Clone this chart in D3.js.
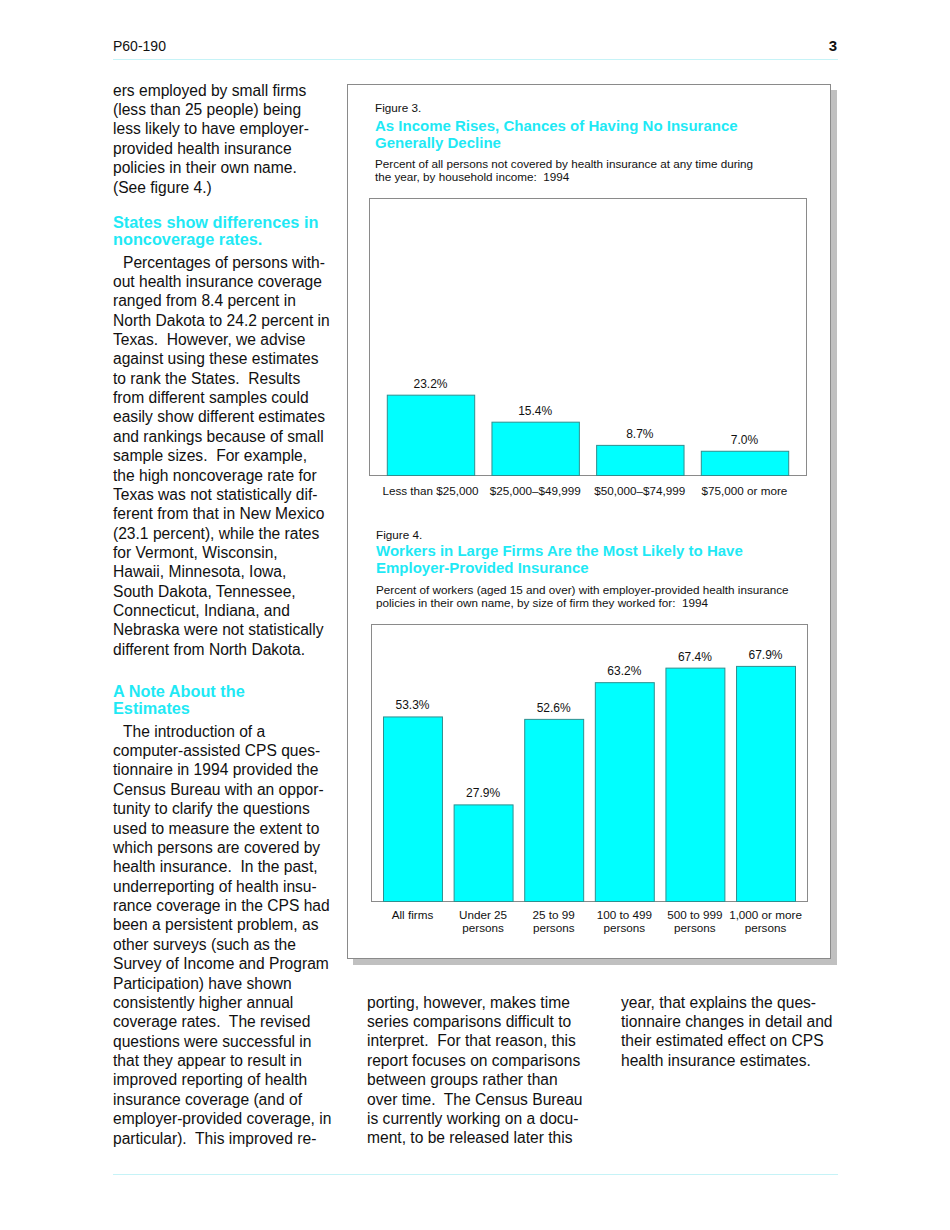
<!DOCTYPE html>
<html><head><meta charset="utf-8">
<script src="https://cdn.jsdelivr.net/npm/d3@7"></script>
<style>
body{margin:0;background:#fff;}
svg text{font-family:"Liberation Sans",Arial,Helvetica,sans-serif;}
</style></head>
<body><svg id="page" width="950" height="1230"></svg>
<script>
// ---- Data ----
const incomeCategories = ["Less than $25,000","$25,000\u2013$49,999","$50,000\u2013$74,999","$75,000 or more"];
const incomeValues = [23.2, 15.4, 8.7, 7.0];
const firmCategories = [["All firms"],["Under 25","persons"],["25 to 99","persons"],["100 to 499","persons"],["500 to 999","persons"],["1,000 or more","persons"]];
const firmValues = [53.3, 27.9, 52.6, 63.2, 67.4, 67.9];
const yMax = 80;

// ---- Text ----
const leftBlockA = ["ers employed by small firms","(less than 25 people) being","less likely to have employer-","provided health insurance","policies in their own name.","(See figure 4.)"];
const heading1 = ["States show differences in","noncoverage rates."];
const leftBlockB = ["Percentages of persons with-","out health insurance coverage","ranged from 8.4 percent in","North Dakota to 24.2 percent in","Texas.  However, we advise","against using these estimates","to rank the States.  Results","from different samples could","easily show different estimates","and rankings because of small","sample sizes.  For example,","the high noncoverage rate for","Texas was not statistically dif-","ferent from that in New Mexico","(23.1 percent), while the rates","for Vermont, Wisconsin,","Hawaii, Minnesota, Iowa,","South Dakota, Tennessee,","Connecticut, Indiana, and","Nebraska were not statistically","different from North Dakota."];
const heading2 = ["A Note About the","Estimates"];
const leftBlockC = ["The introduction of a","computer-assisted CPS ques-","tionnaire in 1994 provided the","Census Bureau with an oppor-","tunity to clarify the questions","used to measure the extent to","which persons are covered by","health insurance.  In the past,","underreporting of health insu-","rance coverage in the CPS had","been a persistent problem, as","other surveys (such as the","Survey of Income and Program","Participation) have shown","consistently higher annual","coverage rates.  The revised","questions were successful in","that they appear to result in","improved reporting of health","insurance coverage (and of","employer-provided coverage, in","particular).  This improved re-"];
const midBlock = ["porting, however, makes time","series comparisons difficult to","interpret.  For that reason, this","report focuses on comparisons","between groups rather than","over time.  The Census Bureau","is currently working on a docu-","ment, to be released later this"];
const rightBlock = ["year, that explains the ques-","tionnaire changes in detail and","their estimated effect on CPS","health insurance estimates."];

const CYAN_TEXT = "#1fe9f5";
const svg = d3.select("#page");

function lines(arr, x, y0, dy, size, opts={}){
  const g = svg.append("g");
  arr.forEach((t,i)=>{
    g.append("text").attr("x", (i===0 && opts.indent)? x+opts.indent : x)
     .attr("y", y0 + i*dy + size*0.36)
     .attr("font-size", size)
     .attr("font-weight", opts.bold?"bold":"normal")
     .attr("fill", opts.fill||"#111")
     .style("white-space","pre")
     .text(t);
  });
}

// header
svg.append("text").attr("x",113).attr("y",51).attr("font-size",14).attr("fill","#111").text("P60-190");
svg.append("text").attr("x",837).attr("y",51).attr("text-anchor","end").attr("font-size",15).attr("font-weight","bold").attr("fill","#111").text("3");
svg.append("line").attr("x1",113).attr("x2",838).attr("y1",59.5).attr("y2",59.5).attr("stroke","#c6f3f7").attr("stroke-width",1.2);
svg.append("line").attr("x1",113).attr("x2",838).attr("y1",1174.5).attr("y2",1174.5).attr("stroke","#c6f3f7").attr("stroke-width",1.2);

// left column
lines(leftBlockA,113,90,19.4,15.6);
lines(heading1,113,222,17.5,16.3,{bold:true,fill:CYAN_TEXT});
lines(leftBlockB,113,262,19.36,15.6,{indent:10});
lines(heading2,113,691,17.5,16.3,{bold:true,fill:CYAN_TEXT});
lines(leftBlockC,113,731,19.38,15.6,{indent:10});
lines(midBlock,367,1002,19.4,15.6);
lines(rightBlock,621,1002,19.4,15.6);

// figure box with shadow
svg.append("rect").attr("x",353).attr("y",90).attr("width",484).attr("height",875).attr("fill","#c0c0c0");
svg.append("rect").attr("x",347.5).attr("y",84.5).attr("width",483).attr("height",874).attr("fill","#fff").attr("stroke","#8a8a8a").attr("stroke-width",1);

function barChart(cfg){
  const {x0,x1,top,bottom,cats,vals,labOff} = cfg;
  const x = d3.scaleBand().domain(d3.range(cats.length)).range([x0,x1]).paddingInner(0.165).paddingOuter(0.17);
  const yy = d3.scaleLinear().domain([0,yMax]).range([bottom, top]);
  svg.append("rect").attr("x",x0+0.5).attr("y",top+0.5).attr("width",x1-x0).attr("height",bottom-top).attr("fill","none").attr("stroke","#8a8a8a");
  const g = svg.append("g");
  g.selectAll("rect.bar").data(vals).join("rect").attr("class","bar")
    .attr("x",(d,i)=>x(i)+0.5).attr("width",x.bandwidth())
    .attr("y",d=>yy(d)+0.5).attr("height",d=>bottom-yy(d))
    .attr("fill","#00ffff").attr("stroke","#2f8f8f").attr("stroke-width",1);
  g.selectAll("text.val").data(vals).join("text").attr("class","val")
    .attr("x",(d,i)=>x(i)+x.bandwidth()/2).attr("y",d=>yy(d)-7)
    .attr("text-anchor","middle").attr("font-size",12).attr("fill","#111")
    .text(d=>d.toFixed(1)+"%");
  cats.forEach((c,i)=>{
    const arr = Array.isArray(c)?c:[c];
    arr.forEach((t,j)=>{
      g.append("text").attr("x",x(i)+x.bandwidth()/2).attr("y",bottom+labOff+j*13)
       .attr("text-anchor","middle").attr("font-size",11.7).attr("fill","#111").text(t);
    });
  });
}

// Figure 3
lines(["Figure 3."],375,108,0,11.7);
lines(["As Income Rises, Chances of Having No Insurance","Generally Decline"],375,126,17,15,{bold:true,fill:CYAN_TEXT});
lines(["Percent of all persons not covered by health insurance at any time during","the year, by household income:  1994"],375,164,13,11.7);
barChart({x0:369,x1:806,top:198,bottom:475,cats:incomeCategories,vals:incomeValues,labOff:20});

// Figure 4
lines(["Figure 4."],376,535,0,11.7);
lines(["Workers in Large Firms Are the Most Likely to Have","Employer-Provided Insurance"],376,551,17,15,{bold:true,fill:CYAN_TEXT});
lines(["Percent of workers (aged 15 and over) with employer-provided health insurance","policies in their own name, by size of firm they worked for:  1994"],376,590,13,11.7);
barChart({x0:371,x1:807,top:624,bottom:901,cats:firmCategories,vals:firmValues,labOff:18});
</script></body></html>
